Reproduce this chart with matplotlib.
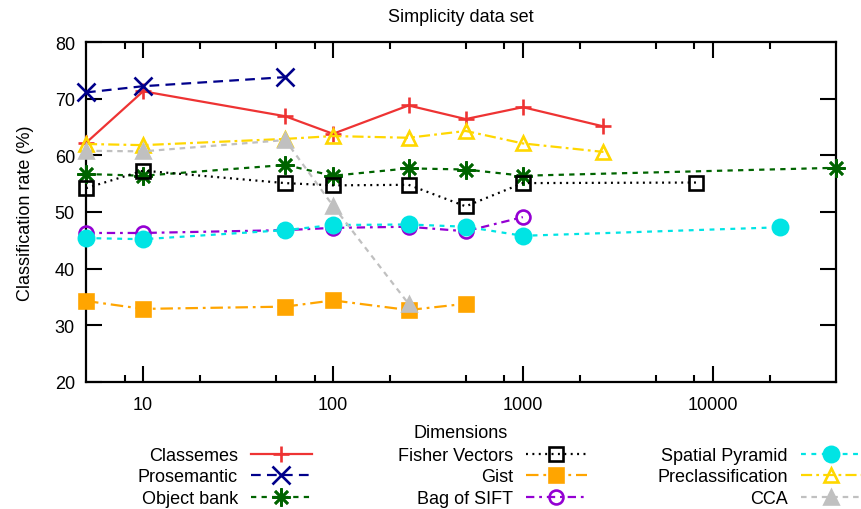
import numpy as np
import matplotlib
matplotlib.use("Agg")
import matplotlib.pyplot as plt
from matplotlib.ticker import FixedLocator, NullFormatter

# ============================================================
# Data (dimensions vs classification rate)
# ============================================================

classemes_x = [5, 10, 56, 100, 250, 500, 1000, 2659]
classemes_y = [62.2, 71.3, 66.9, 63.8, 68.8, 66.4, 68.5, 65.1]

prosemantic_x = [5, 10, 56]
prosemantic_y = [71.1, 72.2, 73.8]

objbank_x = [5, 10, 56, 100, 250, 500, 1000, 44604]
objbank_y = [56.7, 56.4, 58.3, 56.4, 57.7, 57.5, 56.4, 57.8]

fisher_x = [5, 10, 56, 100, 250, 500, 1000, 8192]
fisher_y = [54.2, 57.3, 55.1, 54.7, 54.8, 51.0, 55.1, 55.2]

gist_x = [5, 10, 56, 100, 250, 500]
gist_y = [34.3, 32.9, 33.3, 34.4, 32.7, 33.8]

bosift_x = [5, 10, 56, 100, 250, 500, 1000]
bosift_y = [46.3, 46.3, 46.8, 47.2, 47.4, 46.6, 49.1]

spyramid_x = [5, 10, 56, 100, 250, 500, 1000, 22500]
spyramid_y = [45.4, 45.2, 46.8, 47.7, 47.8, 47.4, 45.8, 47.3]

preclass_x = [5, 10, 56, 100, 250, 500, 1000, 2659]
preclass_y = [62.0, 61.8, 62.9, 63.4, 63.1, 64.3, 62.1, 60.6]

cca_x = [5, 10, 56, 100, 250]
cca_y = [60.8, 60.7, 62.7, 51.1, 33.8]

major_ticks = [10, 100, 1000, 10000]
minor_ticks = [8, 20, 50, 80, 200, 500, 800, 2000, 5000, 8000, 20000]
y_ticks = [20, 30, 40, 50, 60, 70, 80]

# ============================================================
# Style
# ============================================================

plt.rcParams['font.family'] = ['Liberation Sans', 'DejaVu Sans']
plt.rcParams['font.size'] = 13
plt.rcParams['lines.scale_dashes'] = False

fig = plt.figure(figsize=(8.62, 5.10), dpi=100)
ax = fig.add_axes([86 / 862, 1 - 383 / 510, 750 / 862, 340 / 510])

lw = 1.6
# label, x, y, color, linestyle, marker, markersize, filled
series = [
    ("Classemes",         classemes_x, classemes_y, '#EE3333', '-',                 '+',       12, True),
    ("Prosemantic",       prosemantic_x, prosemantic_y, '#00008B', (0, (7, 4.5)),   'x',       12.5, True),
    ("Object bank",       objbank_x, objbank_y,     '#006400', (0, (3.8, 3.8)),     (8, 2, 0), 13, True),
    ("Fisher Vectors",    fisher_x, fisher_y,       '#000000', (0, (1.4, 3.2)),     's',       10, False),
    ("Gist",              gist_x, gist_y,           '#FFA500', (0, (9, 3.5, 2, 3.5)), 's',     10.5, True),
    ("Bag of SIFT",       bosift_x, bosift_y,       '#9400D3', (0, (6, 3.5, 2, 3.5)), 'o',     10, False),
    ("Spatial Pyramid",   spyramid_x, spyramid_y,   '#00E4E4', (0, (3.5, 4)),       'o',       11, True),
    ("Preclassification", preclass_x, preclass_y,   '#FFD700', (0, (8, 3, 2, 3)),   '^',       10.5, False),
    ("CCA",               cca_x, cca_y,             '#C0C0C0', (0, (4, 3.5)),       '^',       9.5, True),
]

handles = []
for i, (label, xs, ys, col, ls, mk, ms, filled) in enumerate(series):
    line, = ax.plot(xs, ys, color=col, linestyle=ls, linewidth=lw,
                    marker=mk, markersize=ms, markeredgewidth=1.9,
                    markeredgecolor=col,
                    markerfacecolor=col if filled else 'none',
                    label=label, clip_on=False, zorder=3 + i)
    handles.append(line)

# ------------------------------------------------------------
# Axes, ticks, labels
# ------------------------------------------------------------
ax.set_xscale('log')
ax.set_xlim(5, 44604)
ax.set_ylim(20, 80)

ax.xaxis.set_major_locator(FixedLocator(major_ticks))
ax.xaxis.set_minor_locator(FixedLocator(minor_ticks))
ax.xaxis.set_minor_formatter(NullFormatter())
ax.set_xticklabels([str(t) for t in major_ticks])
ax.set_yticks(y_ticks)

ax.tick_params(which='major', direction='in', length=11.5, width=1.5,
               top=True, right=True, pad=8)
ax.tick_params(axis='x', which='major', pad=10)
ax.tick_params(which='minor', direction='in', length=5, width=1.5,
               top=True, right=False)
for sp in ax.spines.values():
    sp.set_linewidth(1.6)

ax.set_title("Simplicity data set", fontsize=13, pad=15)
ax.set_xlabel("Dimensions", labelpad=8)
ax.set_ylabel("Classification rate (%)", labelpad=15)

# ------------------------------------------------------------
# Legend: three gnuplot-style columns (text right-aligned, sample after)
# ------------------------------------------------------------
col_right = [312, 587, 862]
for c in range(3):
    fig.legend(handles[3 * c:3 * c + 3],
               [h.get_label() for h in handles[3 * c:3 * c + 3]],
               loc='center right', bbox_to_anchor=(col_right[c] / 862, 1 - 478 / 510),
               markerfirst=False, frameon=False, numpoints=1,
               handlelength=3.4, handletextpad=0.7, labelspacing=0.24,
               borderpad=0, borderaxespad=0, fontsize=13)

plt.savefig("out.png", dpi=100)
